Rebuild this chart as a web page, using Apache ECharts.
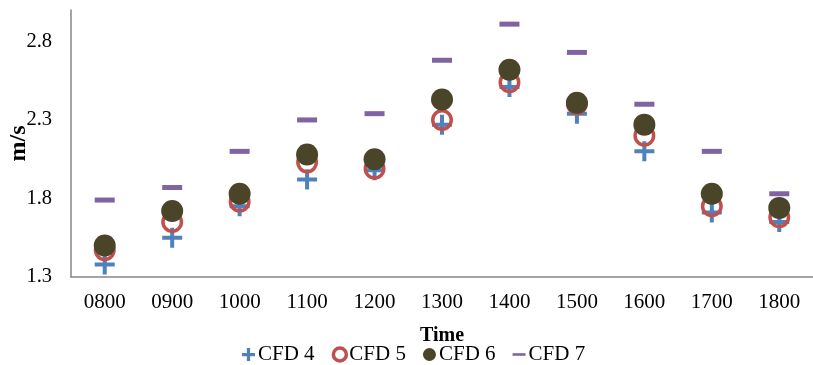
<!DOCTYPE html>
<html><head><meta charset="utf-8">
<script src="https://cdn.jsdelivr.net/npm/echarts@6/dist/echarts.min.js"></script>
<style>html,body{margin:0;padding:0;background:#fff}#c{width:813px;height:365px}</style>
</head><body><div id="c"></div>
<script>
const categories = ['0800','0900','1000','1100','1200','1300','1400','1500','1600','1700','1800'];
const cfd4 = [1.38,1.55,1.75,1.92,1.98,2.27,2.51,2.34,2.10,1.71,1.65];
const cfd5 = [1.47,1.65,1.78,2.03,1.99,2.30,2.54,2.40,2.20,1.75,1.68];
const cfd6 = [1.50,1.72,1.83,2.08,2.05,2.43,2.62,2.41,2.27,1.83,1.74];
const cfd7 = [1.79,1.87,2.10,2.30,2.34,2.68,2.91,2.73,2.40,2.10,1.83];
const yTicks = [1.3,1.8,2.3,2.8];

const FONT = '"Liberation Serif","Times New Roman",serif';
const plus = 'path://M0,8L8,8L8,0L12,0L12,8L20,8L20,12L12,12L12,20L8,20L8,12L0,12Z';
const plusIcon = 'path://M0,7.5L7.5,7.5L7.5,0L12.5,0L12.5,7.5L20,7.5L20,12.5L12.5,12.5L12.5,20L7.5,20L7.5,12.5L0,12.5Z';
const dashIcon = 'path://M0,0M20,20M0,8L20,8L20,12L0,12Z';

const chart = echarts.init(document.getElementById('c'));
chart.setOption({
  animation:false,
  backgroundColor:'#fff',
  grid:{left:71,right:0,top:10,bottom:88,outerBoundsMode:'none',containLabel:false},
  xAxis:{
    type:'category', data:categories,
    name:'Time', nameLocation:'middle', nameGap:49,
    nameTextStyle:{fontFamily:FONT,fontWeight:'bold',fontSize:20,color:'#000'},
    axisLine:{lineStyle:{color:'#868686',width:1.5}},
    axisTick:{show:false},
    axisLabel:{fontFamily:FONT,fontSize:21,color:'#000',margin:15},
    splitLine:{show:false}
  },
  yAxis:{
    type:'value', min:1.3, max:3.0,
    name:'m/s', nameLocation:'middle', nameGap:40, nameRotate:90, nameMoveOverlap:false,
    nameTextStyle:{fontFamily:FONT,fontWeight:'bold',fontSize:24,color:'#000'},
    axisLine:{show:true,lineStyle:{color:'#868686',width:1.5}},
    axisTick:{show:false},
    axisLabel:{fontFamily:FONT,fontSize:20.5,color:'#000',margin:19,customValues:yTicks,
      formatter:v=>v.toFixed(1)},
    splitLine:{show:false}
  },
  legend:{
    top:339, left:237, itemWidth:13, itemHeight:13, itemGap:17,
    textStyle:{fontFamily:FONT,fontSize:21,color:'#000',padding:[0,0,0,-2]},
    data:[
      {name:'CFD 4',icon:plusIcon},
      {name:'CFD 5',itemStyle:{borderWidth:3.5}},
      {name:'CFD 6'},
      {name:'CFD 7',icon:dashIcon}
    ]
  },
  series:[
    {name:'CFD 4',type:'scatter',data:cfd4,symbol:plus,symbolSize:20,
      itemStyle:{color:'#4f81bd',opacity:1}},
    {name:'CFD 5',type:'scatter',data:cfd5,symbol:'circle',symbolSize:18.5,
      itemStyle:{color:'rgba(255,255,255,0)',borderColor:'#c0504d',borderWidth:3.5,opacity:1}},
    {name:'CFD 6',type:'scatter',data:cfd6,symbol:'circle',symbolSize:22,
      itemStyle:{color:'#4a4429',opacity:1}},
    {name:'CFD 7',type:'scatter',data:cfd7,symbol:'rect',symbolSize:[20,5],
      itemStyle:{color:'#8064a2',opacity:1}}
  ]
});
</script></body></html>
